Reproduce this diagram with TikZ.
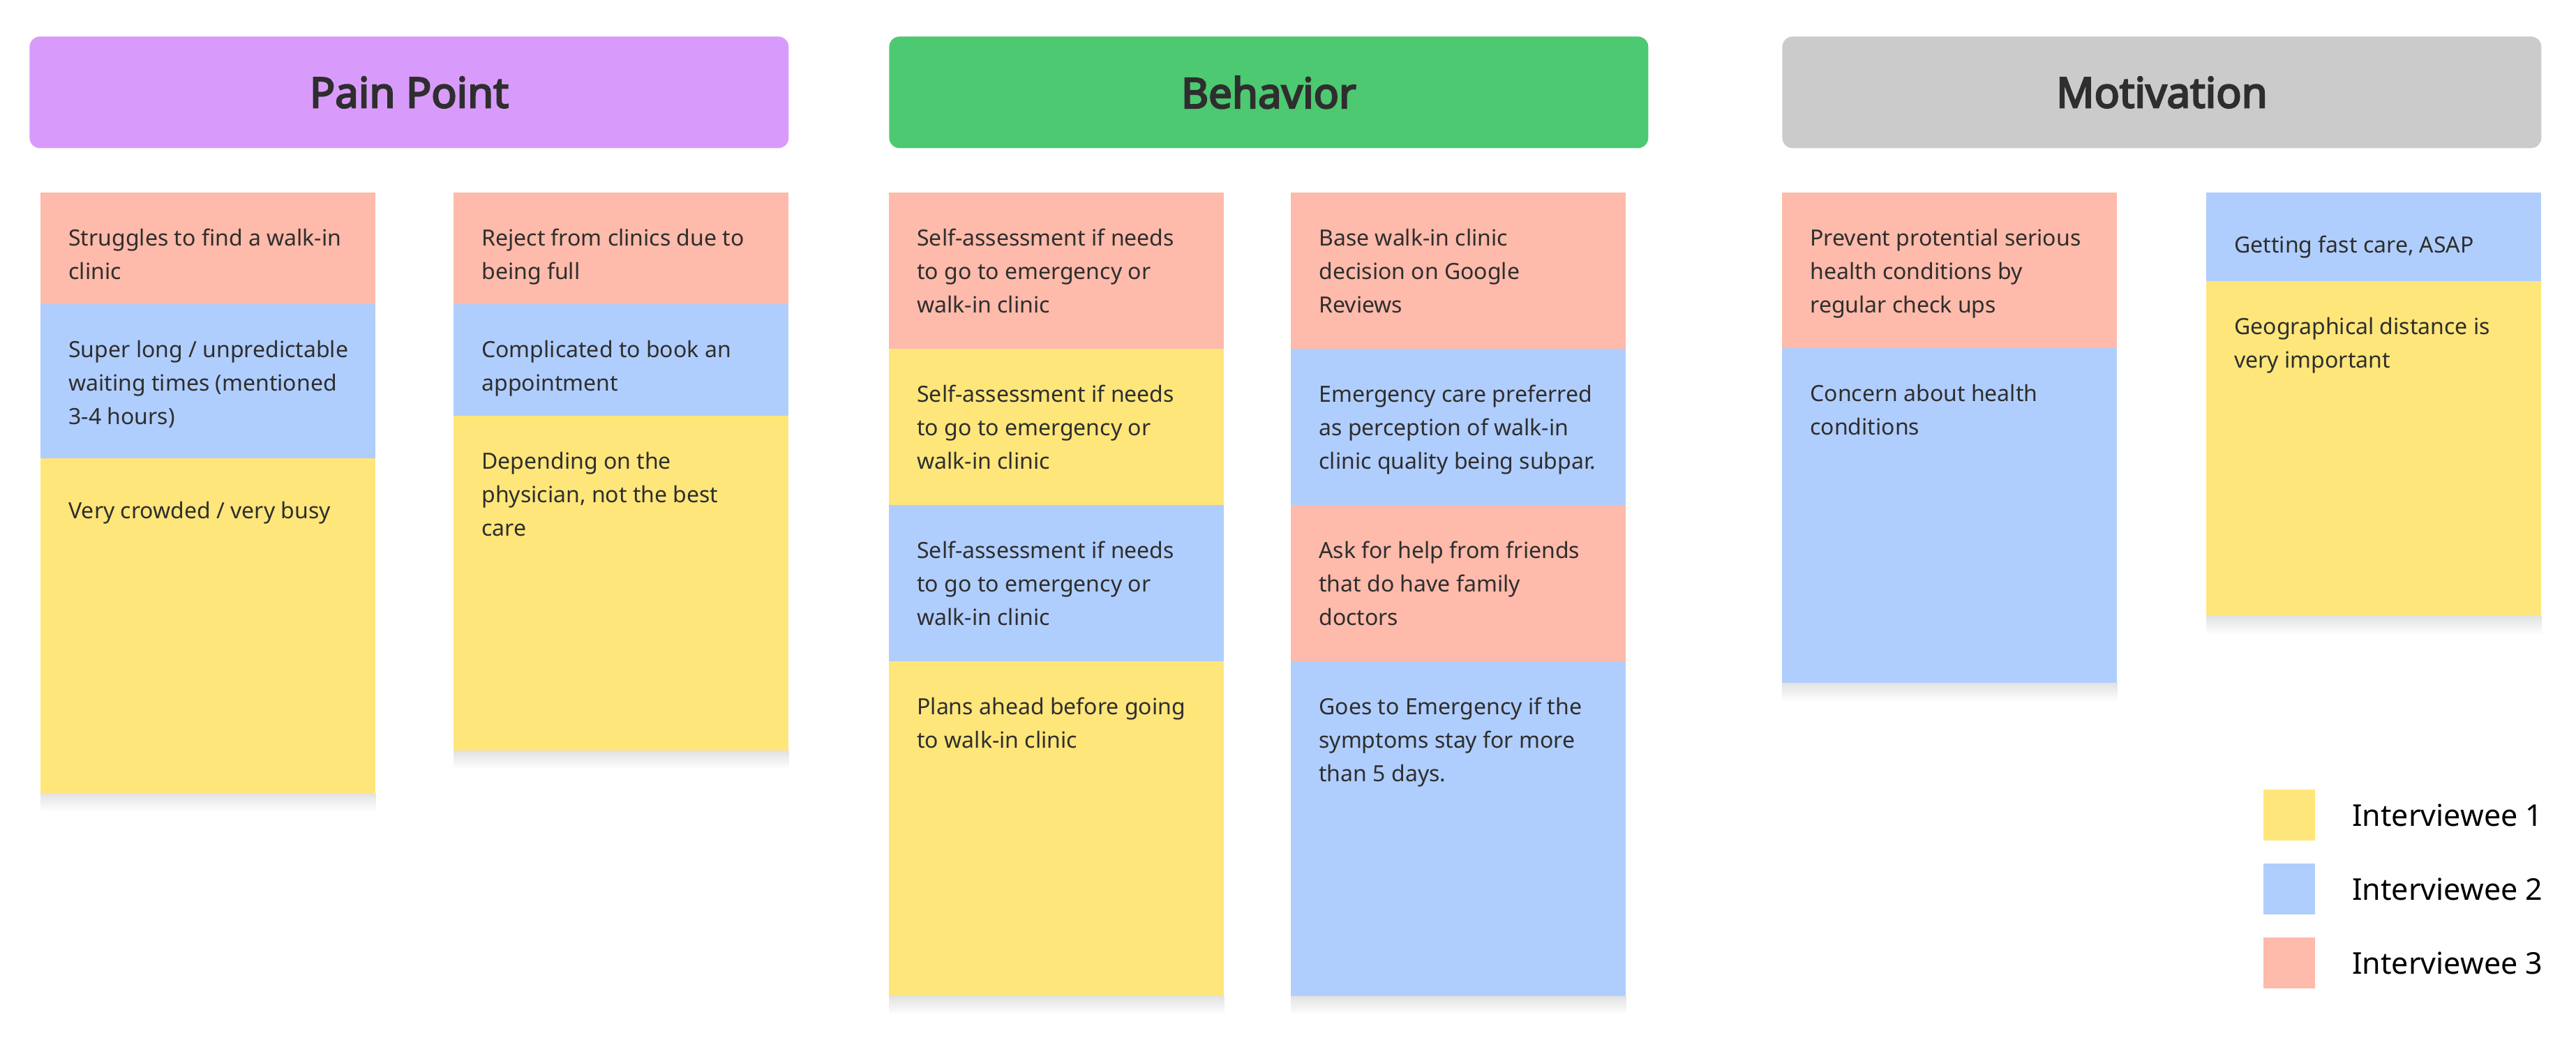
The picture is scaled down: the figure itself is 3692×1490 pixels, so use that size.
\documentclass[tikz,border=0pt]{standalone}
\usepackage{fontspec}
\setmainfont{Noto Sans}[AutoFakeBold=4]
\usetikzlibrary{calc}

% palette
\definecolor{hdrpurple}{HTML}{D99BFB}
\definecolor{hdrgreen}{HTML}{4DC971}
\definecolor{hdrgray}{HTML}{CCCBCC}
\definecolor{notered}{HTML}{FEBAAA}
\definecolor{noteblue}{HTML}{B0CEFD}
\definecolor{noteyellow}{HTML}{FEE67A}
\definecolor{ink}{HTML}{2E2E2E}

\tikzset{
  header/.style={rectangle, rounded corners=7.5pt, minimum width=544pt,
    minimum height=80pt, inner sep=0pt, anchor=north west, text=ink,
    font=\fontsize{30}{34}\selectfont\bfseries},
  sticky/.style={rectangle, minimum width=240pt, minimum height=240pt,
    inner sep=0pt, anchor=north west},
  notetext/.style={anchor=north west, inner sep=0pt, align=left, text=ink,
    font=\fontsize{16}{24}\selectfont, execute at begin node=\strut},
  dropshadow/.style={top color=black!11, bottom color=white},
  swatch/.style={rectangle, minimum width=37pt, minimum height=36.5pt,
    inner sep=0pt, anchor=north west},
  legendtext/.style={anchor=west, inner sep=0pt, text=black,
    font=\fontsize{21.5}{26}\selectfont}
}

% text block inside a sticky note
\newcommand{\notetxt}[2]{%
  \node[notetext] (#1-t) at ($(#1.north west)+(40,52)$) {#2};}
% soft shadow under the lowest note of a column
\newcommand{\colshadow}[1]{%
  \shade[dropshadow] (#1.south west) rectangle ($(#1.south east)+(0,26)$);}

\begin{document}
\begin{tikzpicture}[x=0.5pt, y=-0.5pt]
  \fill[white] (0,0) rectangle (3692,1490);
  \useasboundingbox (0,0) rectangle (3692,1490);

  % column headers
  \node[header, fill=hdrpurple] (hpain) at (42,52) {Pain Point};
  \node[header, fill=hdrgreen]  (hbeh)  at (1274,52) {Behavior};
  \node[header, fill=hdrgray]   (hmot)  at (2554,52) {Motivation};

  % ---- Pain Point, column 1
  \node[sticky, fill=notered] (pa1) at (58,276) {};
  \notetxt{pa1}{Struggles to find a walk-in\\clinic}
  \node[sticky, fill=noteblue] (pa2) at (58,436) {};
  \notetxt{pa2}{Super long / unpredictable\\waiting times (mentioned\\3-4 hours)}
  \node[sticky, fill=noteyellow] (pa3) at (58,657) {};
  \notetxt{pa3}{Very crowded / very busy}
  \colshadow{pa3}

  % ---- Pain Point, column 2
  \node[sticky, fill=notered] (pb1) at (650,276) {};
  \notetxt{pb1}{Reject from clinics due to\\being full}
  \node[sticky, fill=noteblue] (pb2) at (650,436) {};
  \notetxt{pb2}{Complicated to book an\\appointment}
  \node[sticky, fill=noteyellow] (pb3) at (650,596) {};
  \notetxt{pb3}{Depending on the\\physician, not the best\\care}
  \colshadow{pb3}

  % ---- Behavior, column 1
  \node[sticky, fill=notered] (ba1) at (1274,276) {};
  \notetxt{ba1}{Self-assessment if needs\\to go to emergency or\\walk-in clinic}
  \node[sticky, fill=noteyellow] (ba2) at (1274,500) {};
  \notetxt{ba2}{Self-assessment if needs\\to go to emergency or\\walk-in clinic}
  \node[sticky, fill=noteblue] (ba3) at (1274,724) {};
  \notetxt{ba3}{Self-assessment if needs\\to go to emergency or\\walk-in clinic}
  \node[sticky, fill=noteyellow] (ba4) at (1274,948) {};
  \notetxt{ba4}{Plans ahead before going\\to walk-in clinic}
  \colshadow{ba4}

  % ---- Behavior, column 2
  \node[sticky, fill=notered] (bb1) at (1850,276) {};
  \notetxt{bb1}{Base walk-in clinic\\decision on Google\\Reviews}
  \node[sticky, fill=noteblue] (bb2) at (1850,500) {};
  \notetxt{bb2}{Emergency care preferred\\as perception of walk-in\\clinic quality being subpar.}
  \node[sticky, fill=notered] (bb3) at (1850,724) {};
  \notetxt{bb3}{Ask for help from friends\\that do have family\\doctors}
  \node[sticky, fill=noteblue] (bb4) at (1850,948) {};
  \notetxt{bb4}{Goes to Emergency if the\\symptoms stay for more\\than 5 days.}
  \colshadow{bb4}

  % ---- Motivation, column 1
  \node[sticky, fill=notered] (ma1) at (2554,276) {};
  \notetxt{ma1}{Prevent protential serious\\health conditions by\\regular check ups}
  \node[sticky, fill=noteblue] (ma2) at (2554,499) {};
  \notetxt{ma2}{Concern about health\\conditions}
  \colshadow{ma2}

  % ---- Motivation, column 2
  \node[sticky, fill=noteblue] (mb1) at (3162,276) {};
  \notetxt{mb1}{Getting fast care, ASAP}
  \node[sticky, fill=noteyellow] (mb2) at (3162,403) {};
  \notetxt{mb2}{Geographical distance is\\very important}
  \colshadow{mb2}

  % ---- legend
  \node[swatch, fill=noteyellow] (sw1) at (3244,1132) {};
  \node[swatch, fill=noteblue]   (sw2) at (3244,1238) {};
  \node[swatch, fill=notered]    (sw3) at (3244,1344) {};
  \node[legendtext] (lg1) at ($(sw1.east)+(52,0)$) {Interviewee 1};
  \node[legendtext] (lg2) at ($(sw2.east)+(52,0)$) {Interviewee 2};
  \node[legendtext] (lg3) at ($(sw3.east)+(52,0)$) {Interviewee 3};
\end{tikzpicture}
\end{document}
